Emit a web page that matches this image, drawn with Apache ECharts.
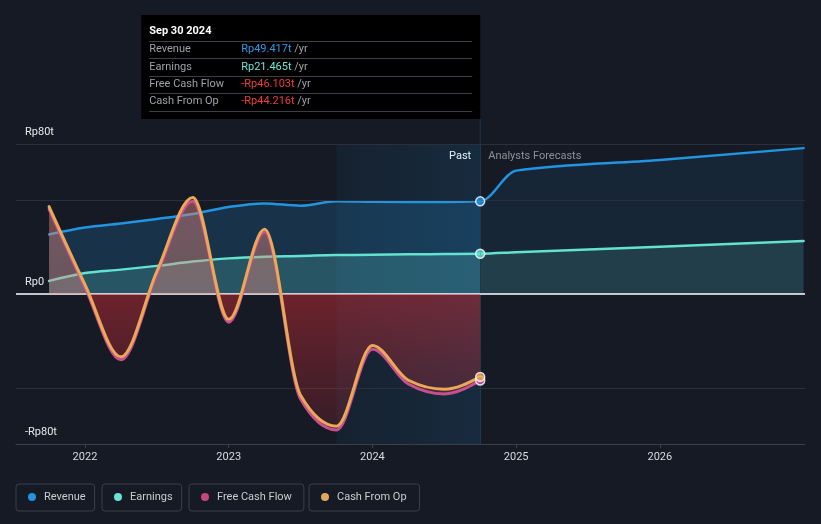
<!DOCTYPE html>
<html><head><meta charset="utf-8">
<script src="https://cdn.jsdelivr.net/npm/echarts@6/dist/echarts.min.js"></script>
<style>html,body{margin:0;padding:0;background:#151a24;} #c{width:821px;height:524px;}</style>
</head><body><div id="c"></div>
<script>
// ---- data (trillions of Rp, x = decimal year) ----
const pastDates      = [2021.75, 2022.0, 2022.25, 2022.5, 2022.75, 2023.0, 2023.25, 2023.5, 2023.75, 2024.0, 2024.25, 2024.5, 2024.75];
const revenuePast    = [31.8, 35.5, 37.6, 40.0, 42.7, 46.4, 48.3, 47.1, 49.5, 49.2, 49.1, 49.1, 49.417];
const earningsPast   = [7.0, 11.2, 13.0, 15.0, 17.3, 19.0, 19.9, 20.3, 20.8, 20.9, 21.2, 21.3, 21.465];
const fcfPast        = [45.2, 3.5, -35.0, 10.5, 49.5, -15.0, 33.0, -56.0, -72.5, -29.5, -48.0, -53.3, -46.103];
const cfoPast        = [46.6, 5.0, -33.5, 12.0, 51.5, -13.5, 34.5, -54.0, -70.5, -27.5, -46.0, -50.8, -44.216];
const forecastDates  = [2024.75, 2025.0, 2026.0, 2027.0];
const revenueFc      = [49.417, 65.8, 71.5, 77.8];
const earningsFc     = [21.465, 22.3, 25.2, 28.3];
const yearTicks      = [2022, 2023, 2024, 2025, 2026];
const gridValues     = [80, 50, -50];
const tooltipTitle   = 'Sep 30 2024';
const bandStart      = 2023.75;

const FONT = 'Roboto, "Noto Sans", sans-serif';
const C = {rev:'#2394df', earn:'#63e2cf', fcf:'#c94f91', cfo:'#eaa956'};
const zip = (xs, ys) => xs.map((x, i) => [x, ys[i]]);
const last = pastDates.length - 1;
const xNow = pastDates[last];

const revDates = pastDates.concat(forecastDates.slice(1));
const revAll = revenuePast.concat(revenueFc.slice(1));
const earnAll = earningsPast.concat(earningsFc.slice(1));

const cfMax = Math.max(0, ...fcfPast, ...cfoPast);
const cfMin = Math.min(0, ...fcfPast, ...cfoPast);

// monotone-x cubic tangents (pixel space)
const sgn = v => v < 0 ? -1 : 1;
function monoTangents(pts) {
  const n = pts.length, t = new Array(n);
  const s = i => (pts[i + 1][1] - pts[i][1]) / (pts[i + 1][0] - pts[i][0]);
  for (let i = 1; i < n - 1; i++) {
    const h0 = pts[i][0] - pts[i - 1][0], h1 = pts[i + 1][0] - pts[i][0];
    const s0 = s(i - 1), s1 = s(i);
    const p = (s0 * h1 + s1 * h0) / (h0 + h1);
    t[i] = (sgn(s0) + sgn(s1)) * Math.min(Math.abs(s0), Math.abs(s1), 0.5 * Math.abs(p)) || 0;
  }
  if (n > 2) { t[0] = (3 * s(0) - t[1]) / 2; t[n - 1] = (3 * s(n - 2) - t[n - 2]) / 2; }
  else { t[0] = t[1] = s(0); }
  return t;
}
function curvePath(pts, t, a, b, move) {
  let d = (move ? 'M' : 'L') + pts[a][0] + ' ' + pts[a][1];
  for (let i = a; i < b; i++) {
    const dx = (pts[i + 1][0] - pts[i][0]) / 3;
    d += ' C' + (pts[i][0] + dx) + ' ' + (pts[i][1] + dx * t[i]) + ' ' +
         (pts[i + 1][0] - dx) + ' ' + (pts[i + 1][1] - dx * t[i + 1]) + ' ' +
         pts[i + 1][0] + ' ' + pts[i + 1][1];
  }
  return d;
}
function curveSeries(name, dates, vals, opt) {
  return {
    type: 'custom', name: name, z: opt.z, silent: true,
    itemStyle: {color: opt.color},
    data: zip(dates, vals), encode: {x: 0, y: 1},
    renderItem: (params, api) => {
      if (params.dataIndex !== 0) return null;
      const pts = dates.map((d, i) => api.coord([d, vals[i]]));
      const t = monoTangents(pts);
      const base = api.coord([dates[0], 0])[1];
      const children = [];
      (opt.areas || []).forEach(ar => {
        const d = curvePath(pts, t, ar.from, ar.to, true) +
          ' L' + pts[ar.to][0] + ' ' + base + ' L' + pts[ar.from][0] + ' ' + base + ' Z';
        children.push({type: 'path', shape: {pathData: d}, style: {fill: typeof ar.fill === 'function' ? ar.fill(api) : ar.fill, stroke: 'none'}});
      });
      children.push({type: 'path', shape: {pathData: curvePath(pts, t, 0, pts.length - 1, true)},
        style: {fill: 'none', stroke: opt.color, lineWidth: opt.width, lineJoin: 'round', lineCap: 'round'}});
      return {type: 'group', children: children};
    }
  };
}
const cfFill = api => {
  const yA = api.coord([xNow, cfMax])[1], yB = api.coord([xNow, cfMin])[1], y0 = api.coord([xNow, 0])[1];
  const f0 = (y0 - yA) / (yB - yA);
  return new echarts.graphic.LinearGradient(0, yA, 0, yB, [
    {offset: 0, color: 'rgba(230,135,125,0.45)'},
    {offset: f0, color: 'rgba(230,135,125,0.40)'},
    {offset: f0, color: 'rgba(220,45,55,0.44)'},
    {offset: 1, color: 'rgba(220,45,55,0.16)'}], true);
};

const chart = echarts.init(document.getElementById('c'));
const legendBase = {
  icon: 'circle', itemWidth: 8, itemHeight: 8, top: 484,
  borderColor: '#3a3f49', borderWidth: 1, borderRadius: 3, selectedMode: false,
  textStyle: {color: '#c9ccd1', fontSize: 11, fontFamily: FONT, lineHeight: 14, padding: [0, 0, 0, 3]}
};
const option = {
  backgroundColor: '#151a24',
  animation: false,
  grid: {left: 16, right: 16, top: 144, bottom: 80},
  xAxis: {
    type: 'value', min: 2021.52, max: 2027.01,
    splitLine: {show: false},
    axisLine: {onZero: false, lineStyle: {color: '#3a3f48'}},
    axisTick: {customValues: yearTicks, length: 4, lineStyle: {color: '#3a3f48'}},
    axisLabel: {customValues: yearTicks, formatter: v => String(Math.round(v)), color: '#d8dbe0', fontSize: 11, fontFamily: FONT, margin: 8}
  },
  yAxis: {
    type: 'value', min: -80, max: 80, interval: 80,
    splitLine: {show: false}, axisLine: {show: false}, axisTick: {show: false},
    axisLabel: {
      inside: true, margin: 9, verticalAlign: 'bottom', lineHeight: 24,
      color: '#e6e8eb', fontSize: 11, fontFamily: FONT,
      formatter: v => v === 0 ? 'Rp0' : (v < 0 ? '-' : '') + 'Rp' + Math.abs(v) + 't'
    }
  },
  legend: [
    Object.assign({}, legendBase, {left: 16, padding: [6, 9, 7, 12], data: [{name: 'Revenue', itemStyle: {color: '#2394df'}}]}),
    Object.assign({}, legendBase, {left: 102, padding: [6, 9, 7, 12], data: [{name: 'Earnings', itemStyle: {color: '#6ee0d4'}}]}),
    Object.assign({}, legendBase, {left: 189, padding: [6, 12, 7, 12], data: [{name: 'Free Cash Flow', itemStyle: {color: '#c2477f'}}]}),
    Object.assign({}, legendBase, {left: 309, padding: [6, 13, 7, 12], data: [{name: 'Cash From Op', itemStyle: {color: '#e0a85e'}}]})
  ],
  series: [
    {
      type: 'line', name: 'helper', data: [], silent: true, z: 1,
      markArea: {
        silent: true,
        itemStyle: {color: new echarts.graphic.LinearGradient(0, 0, 1, 0, [
          {offset: 0, color: 'rgba(35,148,223,0.06)'}, {offset: 1, color: 'rgba(35,148,223,0.14)'}])},
        data: [[{xAxis: bandStart}, {xAxis: xNow}]]
      },
      markLine: {
        silent: true, symbol: 'none', label: {show: false},
        lineStyle: {color: '#2a2f39', width: 1, type: 'solid'},
        data: gridValues.map(v => ({yAxis: v})).concat([
          {xAxis: xNow, lineStyle: {color: '#22354a', width: 1, type: 'solid'}}
        ])
      }
    },
    curveSeries('Revenue', revDates, revAll, {color: C.rev, width: 2.5, z: 2, areas: [
      {from: 0, to: last, fill: 'rgba(35,148,223,0.2)'},
      {from: last, to: revDates.length - 1, fill: 'rgba(35,148,223,0.1)'}]}),
    curveSeries('Earnings', revDates, earnAll, {color: C.earn, width: 2.5, z: 3, areas: [
      {from: 0, to: last, fill: 'rgba(106,227,209,0.2)'},
      {from: last, to: revDates.length - 1, fill: 'rgba(106,227,209,0.13)'}]}),
    {
      type: 'line', name: 'helperZero', data: [], silent: true, z: 4,
      markLine: {silent: true, symbol: 'none', label: {show: false},
        lineStyle: {color: '#ffffff', width: 1.5, type: 'solid'}, data: [{yAxis: 0}]}
    },
    curveSeries('Free Cash Flow', pastDates, fcfPast, {color: C.fcf, width: 3, z: 5, areas: [
      {from: 0, to: last, fill: cfFill}]}),
    curveSeries('Cash From Op', pastDates, cfoPast, {color: C.cfo, width: 3, z: 6}),
    {
      type: 'scatter', name: 'dots', z: 10, symbolSize: 9, silent: true,
      itemStyle: {borderColor: '#ffffff', borderWidth: 1.5},
      data: [
        {value: [xNow, fcfPast[last]], itemStyle: {color: C.fcf}},
        {value: [xNow, cfoPast[last]], itemStyle: {color: C.cfo}},
        {value: [xNow, revenuePast[last]], itemStyle: {color: C.rev}},
        {value: [xNow, earningsPast[last]], itemStyle: {color: C.earn}}
      ]
    }
  ]
};
chart.setOption(option);

// ---- overlay texts positioned from the axis scale ----
const xr = chart.convertToPixel({xAxisIndex: 0, yAxisIndex: 0}, [xNow, 0])[0];
const yTop = chart.convertToPixel({xAxisIndex: 0, yAxisIndex: 0}, [xNow, 80])[1];
const fmt = v => (v < 0 ? '-' : '') + 'Rp' + Math.abs(v).toFixed(3) + 't';
const rows = [
  ['Revenue', revenuePast[last], '#2a9ae8'],
  ['Earnings', earningsPast[last], '#6ee6d8'],
  ['Free Cash Flow', fcfPast[last], '#f03c3c'],
  ['Cash From Op', cfoPast[last], '#f03c3c']
];
const tipW = 339, tipL = xr - tipW, tipT = 15, tipH = 104;
const g = [
  {type: 'line', silent: true, shape: {x1: xr, y1: tipT + tipH, x2: xr, y2: yTop}, style: {stroke: '#22354a', lineWidth: 1}},
  {type: 'rect', silent: true, shape: {x: tipL, y: tipT, width: tipW, height: tipH}, style: {fill: '#000000'}},
  {type: 'text', silent: true, x: tipL + 8, y: 31, style: {text: tooltipTitle, fill: '#ffffff', font: 'bold 11px ' + FONT, verticalAlign: 'middle'}},
  {type: 'text', silent: true, x: xr - 9, y: 156, style: {text: 'Past', fill: '#ffffff', font: '11px ' + FONT, align: 'right', verticalAlign: 'middle'}},
  {type: 'text', silent: true, x: xr + 8, y: 156, style: {text: 'Analysts Forecasts', fill: '#8b9099', font: '11px ' + FONT, align: 'left', verticalAlign: 'middle'}}
];
const sepYs = [41, 58, 76, 93, 111];
sepYs.forEach(y => g.push({type: 'line', silent: true, shape: {x1: tipL + 8, y1: y + 0.5, x2: xr - 8, y2: y + 0.5}, style: {stroke: '#3b3e44', lineWidth: 1}}));
const rowYs = [49.5, 67, 84.5, 101.5];
rows.forEach((r, i) => {
  g.push({type: 'text', silent: true, x: tipL + 8, y: rowYs[i], style: {text: r[0], fill: '#9da1a8', font: '11px ' + FONT, verticalAlign: 'middle'}});
  g.push({type: 'text', silent: true, x: tipL + 100, y: rowYs[i], style: {
    text: '{v|' + fmt(r[1]) + '} {u|/yr}', verticalAlign: 'middle', font: '11px ' + FONT,
    rich: {v: {fill: r[2], font: '11px ' + FONT}, u: {fill: '#9da1a8', font: '11px ' + FONT}}
  }});
});
chart.setOption({graphic: g});
</script>
</body></html>
